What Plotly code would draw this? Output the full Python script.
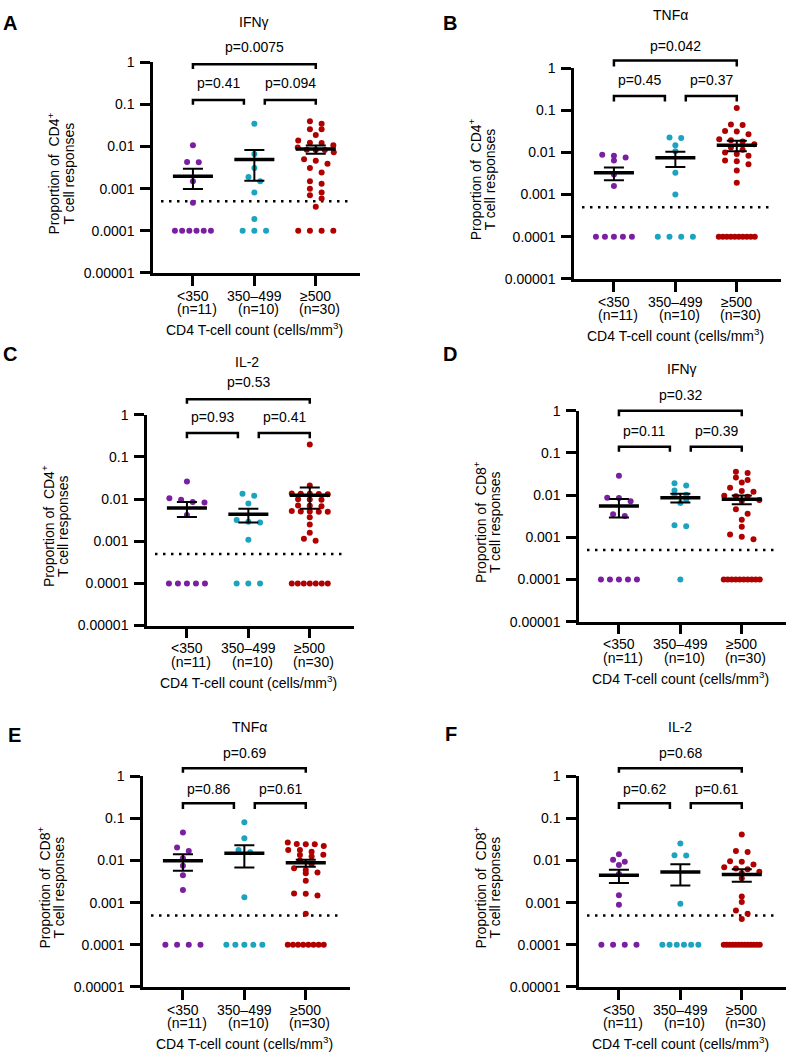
import numpy as np
import plotly.graph_objects as go

W, H = 788, 1060

# ---------------- data ----------------
categories = ["<350", "350–499", "≥500"]
n_labels = ["(n=11)", "(n=10)", "(n=30)"]
group_colors = ["#7b1fa2", "#1ba3c0", "#b00000"]
y_tick_vals = [1, 0.1, 0.01, 0.001, 0.0001, 0.00001]
y_tick_text = ["1", "0.1", "0.01", "0.001", "0.0001", "0.00001"]
detection_limit = 0.0005
x_axis_title = "CD4 T-cell count (cells/mm<sup>3</sup>)"

panel_letters = ["A", "B", "C", "D", "E", "F"]
panel_titles = ["IFNγ", "TNFα", "IL-2", "IFNγ", "TNFα", "IL-2"]
panel_cells = ["CD4", "CD4", "CD4", "CD8", "CD8", "CD8"]
# p values: [<350 vs ≥500, <350 vs 350–499, 350–499 vs ≥500]
p_values = [
    ["p=0.0075", "p=0.41", "p=0.094"],
    ["p=0.042", "p=0.45", "p=0.37"],
    ["p=0.53", "p=0.93", "p=0.41"],
    ["p=0.32", "p=0.11", "p=0.39"],
    ["p=0.69", "p=0.86", "p=0.61"],
    ["p=0.68", "p=0.62", "p=0.61"],
]

# A: CD4 IFNγ
cd4_ifng_lt350 = [0.0107, 0.0043, 0.0042, 0.0015, 0.00046, 0.0001, 0.0001, 0.0001, 0.0001, 0.0001, 0.0001]
cd4_ifng_mid = [0.0347, 0.0066, 0.0031, 0.0019, 0.0015, 0.00081, 0.00019, 0.0001, 0.0001, 0.0001]
cd4_ifng_ge500 = [0.0398, 0.0347, 0.0257, 0.0255, 0.0188, 0.0138, 0.0122, 0.0121, 0.0107, 0.0095,
                  0.0084, 0.0083, 0.0082, 0.0073, 0.0050, 0.0046, 0.0039, 0.0031, 0.0024, 0.0015,
                  0.0013, 0.0010, 0.00081, 0.00070, 0.00058, 0.00037, 0.0001, 0.0001, 0.0001, 0.0001]
# B: CD4 TNFα
cd4_tnfa_lt350 = [0.0088, 0.0083, 0.0076, 0.0064, 0.0030, 0.0016, 0.0001, 0.0001, 0.0001, 0.0001, 0.0001]
cd4_tnfa_mid = [0.0224, 0.0218, 0.0148, 0.0106, 0.0033, 0.0010, 0.0001, 0.0001, 0.0001, 0.0001]
cd4_tnfa_ge500 = [0.1135, 0.0461, 0.0445, 0.0323, 0.0311, 0.0268, 0.0205, 0.0194, 0.0181, 0.0157,
                  0.0131, 0.0115, 0.0100, 0.0091, 0.0083, 0.0064, 0.0062, 0.0052, 0.0037, 0.0019,
                  0.0001, 0.0001, 0.0001, 0.0001, 0.0001, 0.0001, 0.0001, 0.0001, 0.0001, 0.0001]
# C: CD4 IL-2
cd4_il2_lt350 = [0.0263, 0.0104, 0.0096, 0.0085, 0.0083, 0.0042, 0.0001, 0.0001, 0.0001, 0.0001, 0.0001]
cd4_il2_mid = [0.0133, 0.0120, 0.0079, 0.0032, 0.0029, 0.0028, 0.00109, 0.0001, 0.0001, 0.0001]
cd4_il2_ge500 = [0.197, 0.0209, 0.0135, 0.0134, 0.0133, 0.0132, 0.0131, 0.0099, 0.0098, 0.0097,
                 0.0070, 0.0069, 0.0068, 0.0052, 0.0051, 0.0051, 0.0050, 0.0050, 0.0037, 0.0025,
                 0.0016, 0.00115, 0.00102, 0.0001, 0.0001, 0.0001, 0.0001, 0.0001, 0.0001, 0.0001]
# D: CD8 IFNγ
cd8_ifng_lt350 = [0.0290, 0.0087, 0.0086, 0.0072, 0.0035, 0.0032, 0.0001, 0.0001, 0.0001, 0.0001, 0.0001]
cd8_ifng_mid = [0.0192, 0.0169, 0.0129, 0.0102, 0.0095, 0.0078, 0.0065, 0.00193, 0.00183, 0.0001]
cd8_ifng_ge500 = [0.0361, 0.0335, 0.0263, 0.0230, 0.0200, 0.0150, 0.0125, 0.0120, 0.0097, 0.0094,
                  0.0092, 0.0077, 0.0073, 0.0046, 0.0036, 0.0026, 0.00177, 0.00117, 0.00103, 0.0009,
                  0.0001, 0.0001, 0.0001, 0.0001, 0.0001, 0.0001, 0.0001, 0.0001, 0.0001, 0.0001]
# E: CD8 TNFα
cd8_tnfa_lt350 = [0.0461, 0.0205, 0.0168, 0.0113, 0.0075, 0.0045, 0.0020, 0.0001, 0.0001, 0.0001, 0.0001]
cd8_tnfa_mid = [0.0805, 0.0340, 0.0178, 0.0157, 0.00135, 0.0001, 0.0001, 0.0001, 0.0001, 0.0001]
cd8_tnfa_ge500 = [0.0269, 0.0246, 0.0245, 0.0244, 0.0221, 0.0179, 0.0177, 0.0162, 0.0137, 0.0135,
                  0.0124, 0.0100, 0.0083, 0.0066, 0.0060, 0.0052, 0.0050, 0.0033, 0.00165, 0.00163,
                  0.00148, 0.00055, 0.0001, 0.0001, 0.0001, 0.0001, 0.0001, 0.0001, 0.0001, 0.0001]
# F: CD8 IL-2
cd8_il2_lt350 = [0.0141, 0.0105, 0.0093, 0.0078, 0.0048, 0.0015, 0.00089, 0.0001, 0.0001, 0.0001, 0.0001]
cd8_il2_mid = [0.0255, 0.0134, 0.0132, 0.00095, 0.0001, 0.0001, 0.0001, 0.0001, 0.0001, 0.0001]
cd8_il2_ge500 = [0.0414, 0.0169, 0.0159, 0.0096, 0.0093, 0.0081, 0.0069, 0.0065, 0.0062, 0.0054,
                 0.0050, 0.0038, 0.00141, 0.00104, 0.00065, 0.00055, 0.00041, 0.0001, 0.0001, 0.0001,
                 0.0001, 0.0001, 0.0001, 0.0001, 0.0001, 0.0001, 0.0001, 0.0001, 0.0001, 0.0001]

panel_data = [
    [cd4_ifng_lt350, cd4_ifng_mid, cd4_ifng_ge500],
    [cd4_tnfa_lt350, cd4_tnfa_mid, cd4_tnfa_ge500],
    [cd4_il2_lt350, cd4_il2_mid, cd4_il2_ge500],
    [cd8_ifng_lt350, cd8_ifng_mid, cd8_ifng_ge500],
    [cd8_tnfa_lt350, cd8_tnfa_mid, cd8_tnfa_ge500],
    [cd8_il2_lt350, cd8_il2_mid, cd8_il2_ge500],
]

# ---------------- layout (pixels / log-units) ----------------
panel_layout = [
    dict(left=153, top=55, letter=(10, 15), title_x=1.0, title=0.96, ptop=0.35, btop=-0.05, ltop=-0.16,
         pin=-0.49, bin=-0.90, lin=-1.01),
    dict(left=574, top=61, letter=(450, 15), title_x=0.92, title=1.27, ptop=0.53, btop=0.18, ltop=0.04,
         pin=-0.29, bin=-0.66, lin=-0.79),
    dict(left=147, top=413, letter=(10, 351), title_x=0.98, title=1.24, ptop=0.78, btop=0.37, ltop=0.26,
         pin=-0.06, bin=-0.43, lin=-0.56),
    dict(left=579, top=409, letter=(450, 351), title_x=1.03, title=0.99, ptop=0.37, btop=0.0, ltop=-0.13,
         pin=-0.47, bin=-0.85, lin=-0.97),
    dict(left=143, top=780, letter=(14, 738), title_x=1.08, title=1.17, ptop=0.55, btop=0.19, ltop=0.08,
         pin=-0.30, bin=-0.64, lin=-0.78),
    dict(left=579, top=780, letter=(451, 737), title_x=1.0, title=1.17, ptop=0.55, btop=0.19, ltop=0.08,
         pin=-0.30, bin=-0.64, lin=-0.78),
]

PLOT_W, PLOT_H = 207, 214
XR = [-0.65, 2.72]
px_per_unit = PLOT_W / (XR[1] - XR[0])
px_per_decade = PLOT_H / 5.0
FONT = "Liberation Sans, Arial, sans-serif"
LW = 2.5


def fx(c):
    return (c - XR[0]) / (XR[1] - XR[0])


def fy(lv):
    return (lv + 5.0) / 5.0


def swarm_offsets(values, row_gap=5.0, step=11.7, max_width=36.0):
    logs = np.log10(np.asarray(values, dtype=float))
    order = np.argsort(-logs, kind="stable")
    rows = []
    for i in order:
        ypx = logs[i] * px_per_decade
        if rows and abs(rows[-1][0] - ypx) < row_gap:
            rows[-1][1].append(i)
        else:
            rows.append([ypx, [i]])
    off = np.zeros(len(values))
    for _, idx in rows:
        k = len(idx)
        s = step if k < 2 else min(step, max_width / (k - 1))
        for j, i in enumerate(idx):
            off[i] = (j - (k - 1) / 2.0) * s
    return off / px_per_unit


fig = go.Figure()
shapes = []
annotations = []
layout_axes = {}

for k, (pl, groups) in enumerate(zip(panel_layout, panel_data)):
    i = k + 1
    xa = "x" if i == 1 else f"x{i}"
    ya = "y" if i == 1 else f"y{i}"
    xkey = "xaxis" if i == 1 else f"xaxis{i}"
    ykey = "yaxis" if i == 1 else f"yaxis{i}"
    xd, yd = f"{xa} domain", f"{ya} domain"
    left, top = pl["left"], pl["top"]

    layout_axes[xkey] = dict(
        domain=[left / W, (left + PLOT_W) / W], range=XR, anchor=ya,
        showline=True, linewidth=LW, linecolor="black", mirror=False,
        ticks="outside", ticklen=10, tickwidth=LW, tickcolor="black",
        tickvals=[0, 1, 2], showticklabels=False, showgrid=False, zeroline=False, fixedrange=True)
    layout_axes[ykey] = dict(
        domain=[1 - (top + PLOT_H) / H, 1 - top / H], type="log", range=[-5, 0], anchor=xa,
        showline=True, linewidth=LW, linecolor="black",
        ticks="outside", ticklen=10, tickwidth=LW, tickcolor="black",
        tickvals=y_tick_vals, ticktext=y_tick_text, ticklabelstandoff=3,
        tickfont=dict(family=FONT, size=14, color="black"),
        showgrid=False, zeroline=False, fixedrange=True)

    # detection limit dotted line
    fig.add_trace(go.Scatter(x=[-0.52, 2.6], y=[detection_limit, detection_limit], mode="lines",
                             line=dict(color="black", width=2.5, dash="2.5px,5.5px"),
                             xaxis=xa, yaxis=ya, showlegend=False, hoverinfo="skip"))

    sem_x, sem_y, mean_x, mean_y = [], [], [], []
    for g, vals in enumerate(groups):
        arr = np.asarray(vals, dtype=float)
        xs = g + swarm_offsets(arr)
        fig.add_trace(go.Scatter(x=xs, y=arr, mode="markers",
                                 marker=dict(size=6, color=group_colors[g], line=dict(width=0)),
                                 xaxis=xa, yaxis=ya, showlegend=False))
        m = arr.mean()
        se = arr.std(ddof=1) / np.sqrt(len(arr))
        lo, hi = m - se, m + se
        cw = 0.163
        sem_x += [g, g, None, g - cw, g + cw, None, g - cw, g + cw, None]
        sem_y += [lo, hi, None, lo, lo, None, hi, hi, None]
        mean_x += [g - 0.326, g + 0.326, None]
        mean_y += [m, m, None]
    fig.add_trace(go.Scatter(x=sem_x, y=sem_y, mode="lines", line=dict(color="black", width=2),
                             xaxis=xa, yaxis=ya, showlegend=False, hoverinfo="skip"))
    fig.add_trace(go.Scatter(x=mean_x, y=mean_y, mode="lines", line=dict(color="black", width=3.5),
                             xaxis=xa, yaxis=ya, showlegend=False, hoverinfo="skip"))

    # brackets
    def bracket(c0, c1, yl, ylegs):
        shapes.append(dict(type="path", xref=xd, yref=yd,
                           path=f"M {fx(c0)},{fy(ylegs)} L {fx(c0)},{fy(yl)} L {fx(c1)},{fy(yl)} L {fx(c1)},{fy(ylegs)}",
                           line=dict(color="black", width=LW)))
    bracket(0, 2, pl["btop"], pl["ltop"])
    bracket(0, 0.83, pl["bin"], pl["lin"])
    bracket(1.17, 2, pl["bin"], pl["lin"])

    txt = dict(family=FONT, size=14, color="black")
    pv = p_values[k]
    annotations.append(dict(xref=xd, yref=yd, x=fx(1), y=fy(pl["ptop"]), text=pv[0], showarrow=False,
                            font=txt, xanchor="center", yanchor="middle"))
    annotations.append(dict(xref=xd, yref=yd, x=fx(0.415), y=fy(pl["pin"]), text=pv[1], showarrow=False,
                            font=txt, xanchor="center", yanchor="middle"))
    annotations.append(dict(xref=xd, yref=yd, x=fx(1.585), y=fy(pl["pin"]), text=pv[2], showarrow=False,
                            font=txt, xanchor="center", yanchor="middle"))
    # title
    annotations.append(dict(xref=xd, yref=yd, x=fx(pl["title_x"]), y=fy(pl["title"]), text=panel_titles[k],
                            showarrow=False, font=txt, xanchor="center", yanchor="middle"))
    # category labels
    for g in range(3):
        annotations.append(dict(xref=xd, yref=yd, x=fx(g), y=-23 / PLOT_H, text=categories[g],
                                showarrow=False, font=txt, xanchor="center", yanchor="middle"))
        annotations.append(dict(xref=xd, yref=yd, x=fx(g) + 4 / PLOT_W, y=-37 / PLOT_H, text=n_labels[g],
                                showarrow=False, font=txt, xanchor="center", yanchor="middle"))
    annotations.append(dict(xref=xd, yref=yd, x=fx(1), y=-57 / PLOT_H, text=x_axis_title,
                            showarrow=False, font=txt, xanchor="center", yanchor="middle"))
    # y-axis title (two lines)
    annotations.append(dict(xref=xd, yref=yd, x=-99 / PLOT_W, y=1 - 113 / PLOT_H,
                            text=f"Proportion of  {panel_cells[k]}<sup>+</sup>", textangle=-90,
                            showarrow=False, font=txt, xanchor="center", yanchor="middle"))
    annotations.append(dict(xref=xd, yref=yd, x=-84 / PLOT_W, y=1 - 113 / PLOT_H,
                            text="T cell responses", textangle=-90,
                            showarrow=False, font=txt, xanchor="center", yanchor="middle"))
    # panel letter
    lx, ly = pl["letter"]
    annotations.append(dict(xref="paper", yref="paper", x=lx / W, y=1 - ly / H, text=f"<b>{panel_letters[k]}</b>",
                            showarrow=False, font=dict(family=FONT, size=20, color="black"),
                            xanchor="center", yanchor="middle"))

fig.update_layout(
    width=W, height=H, margin=dict(l=0, r=0, t=0, b=0),
    paper_bgcolor="white", plot_bgcolor="white",
    showlegend=False, hovermode=False,
    shapes=shapes, annotations=annotations,
    **layout_axes,
)

fig.write_html("out.html", config={"displayModeBar": False})
